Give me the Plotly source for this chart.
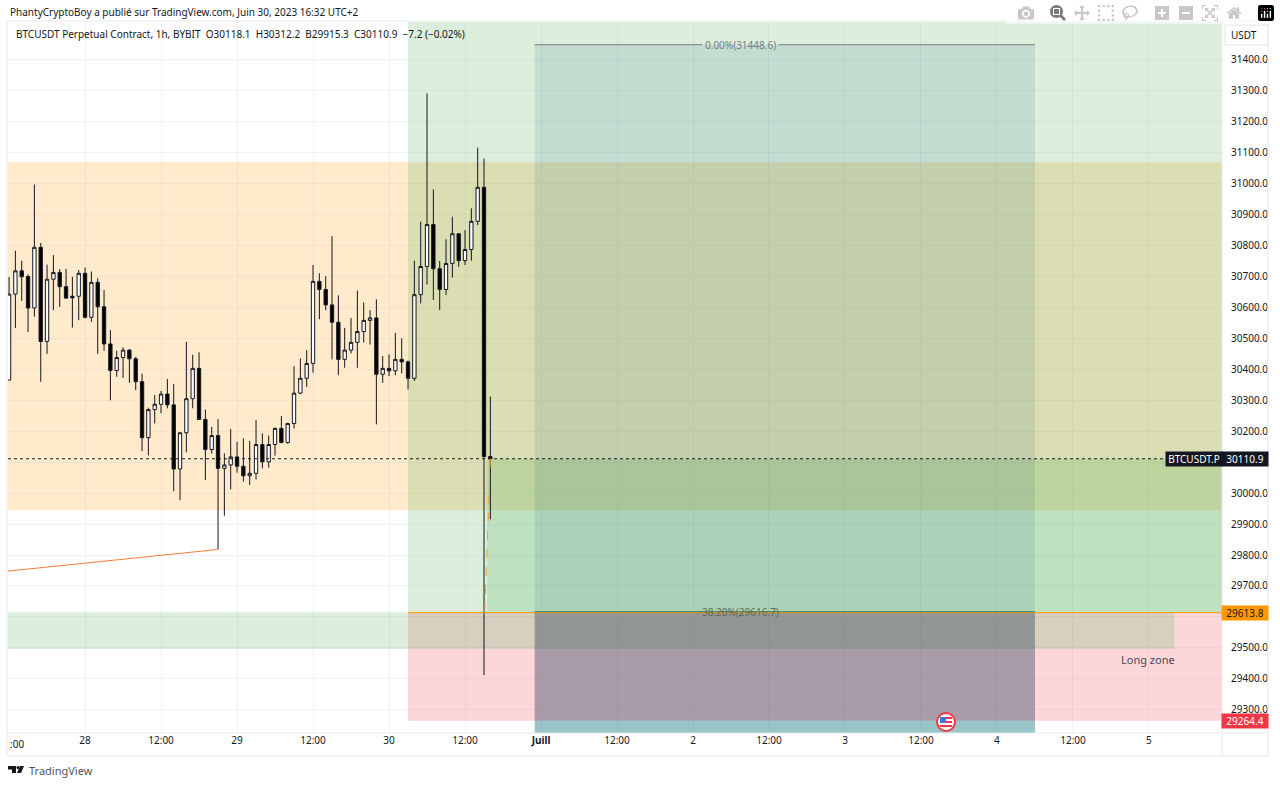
import pandas as pd
import plotly.graph_objects as go

FONT = "Noto Sans"
TEXT = "#131722"

# hourly BTCUSDT candles from the picture, first one is Jun 27 12:00
opens = [30365, 30643, 30718, 30700, 30598, 30794, 30490, 30691, 30713, 30667, 30636, 30636,
         30710, 30568, 30681, 30602, 30482, 30396, 30438, 30462, 30434, 30360, 30179, 30270,
         30287, 30320, 30285, 30078, 30195, 30305, 30403, 30238, 30141, 30186, 30080, 30091,
         30117, 30087, 30056, 30064, 30157, 30101, 30157, 30209, 30163, 30225, 30323, 30371,
         30419, 30684, 30658, 30608, 30552, 30432, 30462, 30487, 30522, 30558, 30566, 30384,
         30403, 30395, 30432, 30424, 30371, 30641, 30732, 30868, 30725, 30658, 30742, 30838,
         30751, 30787, 30878, 30988, 30118.1]
highs = [30698, 30783, 30751, 30707, 30997, 30808, 30738, 30769, 30724, 30724, 30699, 30721,
         30729, 30716, 30694, 30656, 30527, 30460, 30471, 30465, 30440, 30386, 30276, 30317,
         30330, 30369, 30352, 30197, 30489, 30447, 30455, 30270, 30214, 30239, 30128, 30207,
         30166, 30177, 30169, 30236, 30193, 30186, 30212, 30249, 30227, 30410, 30435, 30462,
         30737, 30710, 30701, 30830, 30639, 30534, 30566, 30654, 30616, 30591, 30626, 30443,
         30448, 30518, 30500, 30428, 30751, 30877, 31291, 30981, 30750, 30820, 30893, 30840,
         30850, 30920, 31116, 31081, 30312.2]
lows = [30365, 30533, 30621, 30520, 30570, 30360, 30450, 30591, 30602, 30627, 30535, 30559,
        30564, 30553, 30450, 30460, 30300, 30376, 30372, 30356, 30333, 30135, 30122, 30225,
        30258, 30274, 30006, 29977, 30132, 30274, 30238, 30042, 30128, 29818, 29927, 30012,
        30066, 30037, 30026, 30044, 30080, 30082, 30121, 30163, 30160, 30209, 30320, 30343,
        30389, 30562, 30591, 30432, 30381, 30405, 30451, 30405, 30486, 30480, 30222, 30356,
        30378, 30381, 30387, 30335, 30362, 30613, 30674, 30624, 30591, 30640, 30696, 30731,
        30737, 30751, 30866, 29412, 29915.3]
closes = [30643, 30718, 30699, 30598, 30794, 30490, 30691, 30713, 30667, 30630, 30631, 30710,
          30568, 30681, 30602, 30482, 30396, 30438, 30462, 30434, 30360, 30179, 30270, 30287,
          30320, 30285, 30078, 30195, 30305, 30403, 30238, 30141, 30186, 30080, 30091, 30117,
          30087, 30056, 30064, 30157, 30101, 30157, 30209, 30163, 30225, 30323, 30371, 30419,
          30684, 30658, 30608, 30552, 30432, 30462, 30487, 30522, 30558, 30566, 30384, 30403,
          30395, 30432, 30424, 30371, 30641, 30732, 30868, 30725, 30658, 30742, 30838, 30751,
          30787, 30878, 30988, 30118.1, 30110.9]
times = pd.date_range("2023-06-27 12:00", periods=len(closes), freq="h")

# axis
x_min = "2023-06-27 11:50"
x_max = "2023-07-05 11:32"
y_min = 29225
y_max = 31522
price_ticks = list(range(29300, 31500, 100))
time_ticks = ["2023-06-28 00:00", "2023-06-28 12:00", "2023-06-29 00:00", "2023-06-29 12:00",
              "2023-06-30 00:00", "2023-06-30 12:00", "2023-07-01 00:00", "2023-07-01 12:00",
              "2023-07-02 00:00", "2023-07-02 12:00", "2023-07-03 00:00", "2023-07-03 12:00",
              "2023-07-04 00:00", "2023-07-04 12:00", "2023-07-05 00:00"]
time_labels = ["28", "12:00", "29", "12:00", "30", "12:00", "<b>Juill</b>", "12:00",
               "2", "12:00", "3", "12:00", "4", "12:00", "5"]

# levels of the drawings
last_price = 30110.9
entry_price = 29613.8
stop_price = 29264.4
zone_top = 31069
zone_bottom = 29945
low_zone_top = 29615
low_zone_bottom = 29496
fib_0 = 31448.6
fib_382 = 29616.7
pos_start = "2023-06-30 03:00"
pnl_start = "2023-06-30 15:30"
fib_start = "2023-06-30 23:00"
fib_end = "2023-07-04 06:00"
low_zone_end = "2023-07-05 04:00"

L, T, R, B = 8, 22, 1222, 733


def px(x):
    return (x - L) / (R - L)


def py(y):
    return (B - y) / (B - T)


def rect(x0, x1, y0, y1, color):
    return dict(type="rect", xref="x", yref="y", x0=x0, x1=x1, y0=y0, y1=y1,
                fillcolor=color, line_width=0, layer="between")


def hline(x0, x1, y, color, dash="solid"):
    return dict(type="line", xref="x", yref="y", x0=x0, x1=x1, y0=y, y1=y,
                line=dict(color=color, width=1, dash=dash))


def frame_line(x0, y0, x1, y1, color="#e6e8f0"):
    return dict(type="line", xref="paper", yref="paper", x0=px(x0), x1=px(x1), y0=py(y0), y1=py(y1),
                line=dict(color=color, width=1))


def poly(points, color):
    d = "M " + " L ".join(f"{px(a):.5f} {py(b):.5f}" for a, b in points) + " Z"
    return dict(type="path", xref="paper", yref="paper", path=d, fillcolor=color, line_width=0)


def note(x, y, text, size=10, color=TEXT, anchor="left", **kw):
    return dict(xref="paper", yref="paper", x=px(x), y=py(y), text=text, showarrow=False,
                xanchor=anchor, yanchor="middle", font=dict(family=FONT, size=size, color=color), **kw)


def price_box(y, text, bg, color, x=1245, w=46):
    return dict(xref="paper", yref="y", x=px(x), y=y, text=text, showarrow=False, bgcolor=bg,
                width=w, height=14, align="center", xanchor="center", yanchor="middle",
                font=dict(family=FONT, size=10, color=color), borderpad=0)


shapes = [
    rect(x_min, x_max, zone_bottom, zone_top, "rgba(255,152,0,0.2)"),
    rect(pos_start, x_max, entry_price, y_max, "rgba(76,175,80,0.2)"),
    rect(pnl_start, x_max, entry_price, last_price, "rgba(76,175,80,0.2)"),
    rect(pos_start, x_max, stop_price, entry_price, "rgba(242,54,69,0.2)"),
    rect(x_min, low_zone_end, low_zone_bottom, low_zone_top, "rgba(76,175,80,0.2)"),
    rect(fib_start, fib_end, entry_price, fib_0, "rgba(0,70,120,0.1)"),
    rect(fib_start, fib_end, stop_price, entry_price, "rgba(45,65,91,0.4)"),
    rect(fib_start, fib_end, y_min, stop_price, "rgba(0,110,118,0.4)"),
    hline(x_min, x_max, last_price, "#131722", "dot"),
    hline(pos_start, x_max, entry_price, "#ff9800"),
    hline(fib_start, fib_end, fib_382, "#2e7d52"),
    hline(fib_start, "2023-07-02 01:30", fib_0, "#787b86"),
    hline("2023-07-02 13:30", fib_end, fib_0, "#787b86"),
    dict(type="line", xref="x", yref="y", x0=x_min, x1="2023-06-28 21:00", y0=29748, y1=29818,
         line=dict(color="#f57c3a", width=1)),
    dict(type="line", xref="x", yref="y", x0="2023-06-30 16:00", x1="2023-06-30 15:07",
         y0=last_price, y1=entry_price, line=dict(color="#f0a030", width=1, dash="dash")),
    # chart frame
    frame_line(7, 21, 1268, 21),
    frame_line(7, 21, 7, 756),
    frame_line(1268, 21, 1268, 756),
    frame_line(7, 756, 1268, 756),
    frame_line(1222, 21, 1222, 756),
    frame_line(7, 733, 1268, 733),
    # USDT button
    dict(type="rect", xref="paper", yref="paper", x0=px(1225), x1=px(1268), y0=py(25), y1=py(45),
         fillcolor="white", line=dict(color="#e0e3eb", width=1)),
    # event flag
    dict(type="circle", xref="paper", yref="paper", x0=px(937), x1=px(955), y0=py(713), y1=py(731),
         fillcolor="white", line=dict(color="#f23645", width=2)),
    poly([(940, 717), (952, 717), (952, 719), (940, 719)], "#f23645"),
    poly([(940, 721), (952, 721), (952, 723), (940, 723)], "#f23645"),
    poly([(940, 725), (952, 725), (952, 727), (940, 727)], "#f23645"),
    poly([(940, 717), (946, 717), (946, 723), (940, 723)], "#2f7fd6"),
    # TradingView logo
    poly([(8, 766), (16, 766), (16, 773), (12, 773), (12, 769.5), (8, 769.5)], "#131722"),
    poly([(20, 766), (24, 766), (21, 773), (17, 773)], "#131722"),
    dict(type="circle", xref="paper", yref="paper", x0=px(16.5), x1=px(19.5), y0=py(766), y1=py(769),
         fillcolor="#131722", line_width=0),
]

annotations = [
    note(8, 12, "PhantyCryptoBoy a publié sur TradingView.com, Juin 30, 2023 16:32 UTC+2"),
    note(14, 34, "BTCUSDT Perpetual Contract, 1h, BYBIT\u00a0\u00a0O30118.1\u00a0\u00a0H30312.2"
                 "\u00a0\u00a0B29915.3\u00a0\u00a0C30110.9\u00a0\u00a0−7.2 (−0.02%)"),
    note(1229, 35, "USDT"),
    note(8, 744, ":00"),
    note(27, 770, "TradingView", size=11, color="#50535e"),
    note(1148, 659, "Long zone", size=11, color="#4a4a5a", anchor="center"),
    dict(xref="x", yref="y", x="2023-07-02 07:30", y=fib_0, text="0.00%(31448.6)", showarrow=False,
         font=dict(family=FONT, size=10, color="#787b86")),
    dict(xref="x", yref="y", x="2023-07-02 07:30", y=fib_382, text="38.20%(29616.7)", showarrow=False,
         font=dict(family=FONT, size=10, color="#5f6b52")),
    price_box(last_price, "BTCUSDT.P", "#131722", "white", x=1194, w=56),
    price_box(last_price, "30110.9", "#131722", "white"),
    price_box(entry_price, "29613.8", "#ff9800", TEXT),
    price_box(stop_price, "29264.4", "#f23645", "white"),
]

fig = go.Figure(go.Candlestick(
    x=times, open=opens, high=highs, low=lows, close=closes,
    increasing=dict(fillcolor="white", line=dict(color="#131722", width=1)),
    decreasing=dict(fillcolor="#000000", line=dict(color="#131722", width=1)),
    whiskerwidth=0,
    showlegend=False,
))

fig.update_layout(
    width=1280, height=785,
    margin=dict(l=L, r=1280 - R, t=T, b=785 - B),
    paper_bgcolor="white", plot_bgcolor="white",
    font=dict(family=FONT, size=10, color=TEXT),
    boxgap=0.25,
    shapes=shapes,
    annotations=annotations,
    xaxis=dict(type="date", range=[x_min, x_max], rangeslider=dict(visible=False),
               tickvals=time_ticks, ticktext=time_labels, tickangle=0,
               showgrid=True, gridcolor="#f0f3fa", zeroline=False, showline=False, ticks=""),
    yaxis=dict(side="right", range=[y_min, y_max], tickvals=price_ticks, tickformat=".1f",
               showgrid=True, gridcolor="#f0f3fa", zeroline=False, showline=False,
               ticks="outside", ticklen=6, tickcolor="rgba(0,0,0,0)"),
)

fig.write_html("out.html", post_script="document.body.style.margin='0';")
